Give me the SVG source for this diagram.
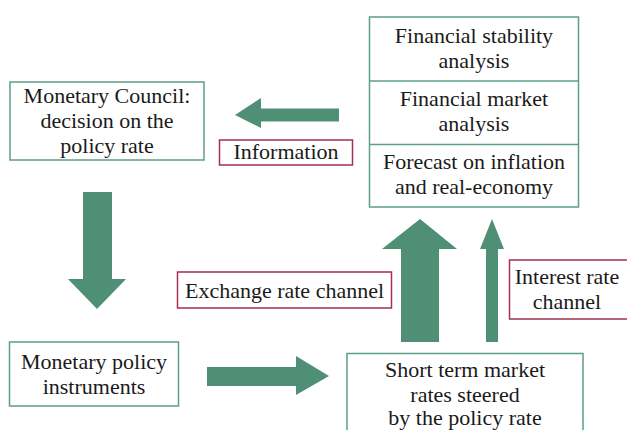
<svg xmlns="http://www.w3.org/2000/svg" width="627" height="430" viewBox="0 0 627 430">
<style>
.box{fill:#fff;stroke:#5c9f87;stroke-width:1.5}
.lbl{fill:#fff;stroke:#a3304f;stroke-width:1.5}
.arr{fill:#4f8f75;stroke:none}
.t{font-family:'Liberation Serif','Times New Roman',Tinos,'Nimbus Roman','Nimbus Roman No9 L',FreeSerif,'DejaVu Serif','Noto Serif',Georgia,serif;font-size:22px;fill:#1a1a1a;text-anchor:middle}
</style>
<rect width="627" height="430" fill="#fff"/>
<g id="connectors">
<polygon class="arr" points="83,192 112,192 112,279 126,279 97,309 68,279 83,279"/>
<polygon class="arr" points="339,108.5 261,108.5 261,98 235,115 261,128 261,121.5 339,121.5"/>
<polygon class="arr" points="207,367 296,367 296,356 329,376 296,395 296,386 207,386"/>
<polygon class="arr" points="401,342 439,342 439,249 457,249 420,219 382,249 401,249"/>
<polygon class="arr" points="486,342 498,342 498,249 504,249 492,219 480,249 486,249"/>
</g>
<g id="council" class="t">
<rect class="box" x="10" y="82" width="194" height="78"/>
<text x="107" y="103">Monetary Council:</text>
<text x="107" y="128">decision on the</text>
<text x="107" y="153">policy rate</text>
</g>
<g id="analysis" class="t">
<rect class="box" x="369.5" y="17" width="209" height="190"/>
<line class="box" x1="369.5" y1="81" x2="578.5" y2="81"/>
<line class="box" x1="369.5" y1="144.5" x2="578.5" y2="144.5"/>
<text x="474" y="43">Financial stability</text>
<text x="474" y="68">analysis</text>
<text x="474" y="106">Financial market</text>
<text x="474" y="131">analysis</text>
<text x="474" y="169">Forecast on inflation</text>
<text x="474" y="194">and real-economy</text>
</g>
<g id="information" class="t">
<rect class="lbl" x="219.5" y="140" width="133" height="25"/>
<text x="286" y="159">Information</text>
</g>
<g id="exchange" class="t">
<rect class="lbl" x="177.5" y="272" width="214" height="36"/>
<text x="284.5" y="298">Exchange rate channel</text>
</g>
<g id="interest" class="t">
<rect class="lbl" x="509.5" y="260" width="130" height="59"/>
<text x="567" y="284">Interest rate</text>
<text x="567" y="309">channel</text>
</g>
<g id="instruments" class="t">
<rect class="box" x="9.5" y="342" width="169" height="64"/>
<text x="94" y="369">Monetary policy</text>
<text x="94" y="394">instruments</text>
</g>
<g id="shortterm" class="t">
<rect class="box" x="347" y="353.5" width="236" height="90"/>
<text x="465" y="377">Short term market</text>
<text x="465" y="402">rates steered</text>
<text x="465" y="425">by the policy rate</text>
</g>
</svg>
